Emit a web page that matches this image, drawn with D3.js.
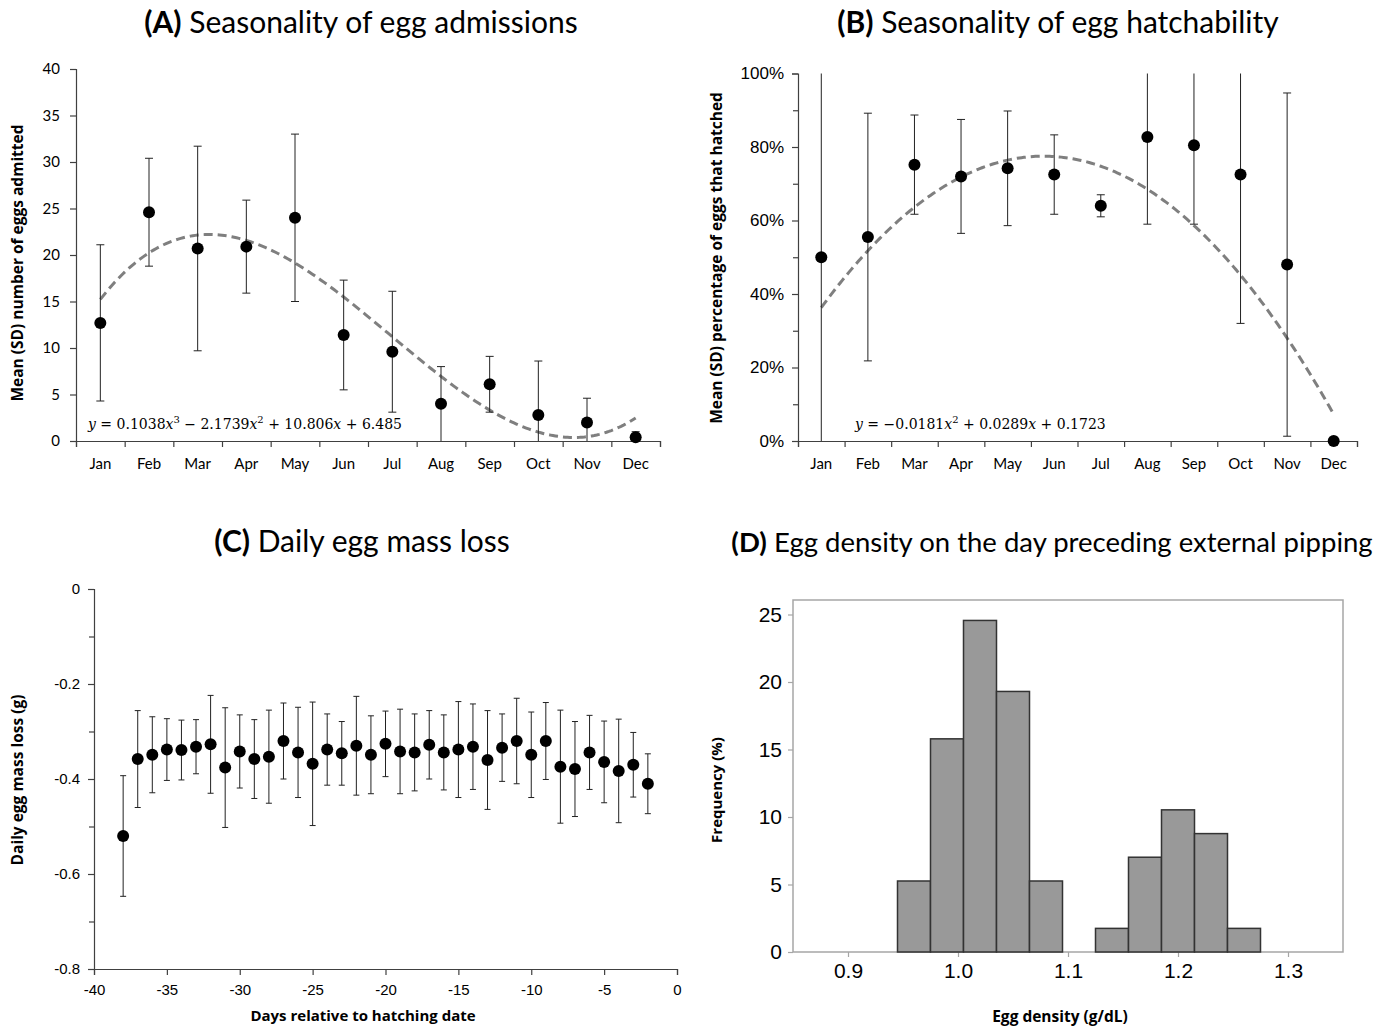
<!DOCTYPE html>
<html>
<head>
<meta charset="utf-8">
<script src="https://cdn.jsdelivr.net/npm/d3@7"></script>
<style>
  body { margin: 0; background: #fff; }
  svg text { fill: #000; }
</style>
</head>
<body>
<svg id="fig" width="1392" height="1027"></svg>
<script>
// ---- data ----
var months = ["Jan", "Feb", "Mar", "Apr", "May", "Jun", "Jul", "Aug", "Sep", "Oct", "Nov", "Dec"];

// (A) eggs admitted per month
var admitMean = [12.7, 24.6, 20.7, 20.9, 24.0, 11.4, 9.6, 4.0, 6.1, 2.8, 2.0, 0.4];
var admitSd = [8.4, 5.8, 11.0, 5.0, 9.0, 5.9, 6.5, 4.0, 3.0, 5.8, 2.6, 0.6];
var admitFit = [0.1038, -2.1739, 10.806, 6.485]; // x^3, x^2, x, 1
var admitTicks = [0, 5, 10, 15, 20, 25, 30, 35, 40];

// (B) hatchability per month
var hatchMean = [0.50, 0.555, 0.752, 0.72, 0.742, 0.725, 0.64, 0.827, 0.805, 0.725, 0.48, 0.0];
var hatchSd = [0.50, 0.337, 0.135, 0.155, 0.156, 0.108, 0.03, 0.237, 0.215, 0.405, 0.467, 0];
var hatchFit = [-0.0181, 0.2089, 0.1723]; // x^2, x, 1 (curve as plotted)
var hatchTicks = [0, 0.2, 0.4, 0.6, 0.8, 1.0];
var hatchMinor = [0.1, 0.3, 0.5, 0.7, 0.9];

// (C) daily egg mass loss
var lossDays = [-38, -37, -36, -35, -34, -33, -32, -31, -30, -29, -28, -27, -26, -25, -24, -23, -22, -21, -20,
  -19, -18, -17, -16, -15, -14, -13, -12, -11, -10, -9, -8, -7, -6, -5, -4, -3, -2];
var lossMean = [-0.520, -0.358, -0.349, -0.338, -0.339, -0.332, -0.327, -0.376, -0.342, -0.358, -0.353, -0.320,
  -0.344, -0.368, -0.338, -0.346, -0.330, -0.349, -0.326, -0.342, -0.344, -0.328, -0.344, -0.338, -0.332,
  -0.360, -0.334, -0.320, -0.349, -0.320, -0.374, -0.379, -0.344, -0.364, -0.383, -0.370, -0.410];
var lossSd = [0.127, 0.102, 0.080, 0.065, 0.063, 0.057, 0.103, 0.126, 0.077, 0.083, 0.098, 0.080, 0.095, 0.130,
  0.075, 0.067, 0.104, 0.082, 0.069, 0.089, 0.081, 0.072, 0.079, 0.101, 0.090, 0.104, 0.071, 0.090, 0.090,
  0.081, 0.119, 0.100, 0.078, 0.086, 0.109, 0.068, 0.063];
var lossXTicks = [-40, -35, -30, -25, -20, -15, -10, -5, 0];
var lossYTicks = [0, -0.2, -0.4, -0.6, -0.8];
var lossYMinor = [-0.1, -0.3, -0.5, -0.7];

// (D) egg density histogram
var binStart = [0.945, 0.975, 1.005, 1.035, 1.065, 1.095, 1.125, 1.155, 1.185, 1.215, 1.245, 1.275];
var binWidth = 0.03;
var binFreq = [5.26, 15.79, 24.56, 19.30, 5.26, 0, 1.75, 7.02, 10.53, 8.77, 1.75, 0];
var densXTicks = [0.9, 1.0, 1.1, 1.2, 1.3];
var densYTicks = [0, 5, 10, 15, 20, 25];

// ---- styles ----
var titleFont = "Lato, 'Open Sans', sans-serif";
var boldFont = "'Open Sans', Lato, sans-serif";
var narrowFont = "'Liberation Sans Narrow', 'Arial Narrow', 'Liberation Sans', sans-serif";
var mathFont = "'DejaVu Serif', 'Liberation Serif', serif";
var axisColor = "#404040";

var svg = d3.select("#fig");

function title(x, y, tag, rest, size) {
  var t = svg.append("text").attr("x", x).attr("y", y)
    .attr("text-anchor", "middle")
    .style("font-family", titleFont).style("font-size", size + "px");
  t.append("tspan").style("font-weight", "bold").text(tag);
  t.append("tspan").text(" " + rest);
}

function yTitle(x, y, txt, size) {
  svg.append("text")
    .attr("transform", "translate(" + x + "," + y + ") rotate(-90)")
    .attr("text-anchor", "middle")
    .style("font-family", boldFont).style("font-weight", "bold").style("font-size", size + "px")
    .text(txt);
}

function xTitle(x, y, txt, size) {
  svg.append("text").attr("x", x).attr("y", y)
    .attr("text-anchor", "middle")
    .style("font-family", boldFont).style("font-weight", "bold").style("font-size", size + "px")
    .text(txt);
}

function styleAxis(g, color, font, size) {
  g.selectAll(".domain").attr("stroke", color).attr("stroke-width", 1.2);
  g.selectAll(".tick line").attr("stroke", color).attr("stroke-width", 1.2);
  g.selectAll(".tick text").style("font-family", font).style("font-size", size).attr("fill", "#000");
}

// equation with italic variables; tokens: [text, kind]
function equation(x, y, tokens) {
  var t = svg.append("text").attr("x", x).attr("y", y)
    .style("font-family", mathFont).style("font-size", "14px");
  tokens.forEach(function (k) {
    var s = t.append("tspan").text(k[0]);
    if (k[1] === "i") s.style("font-style", "italic");
    if (k[1] === "sup") s.attr("dy", -6).style("font-size", "10px");
    if (k[1] === "after") s.attr("dy", 6);
  });
}

function polyVal(coefs, x) {
  return coefs.reduce(function (acc, c) { return acc * x + c; }, 0);
}

// month-panel helper (A and B)
function monthPanel(opt) {
  var x = d3.scaleBand().domain(months).range([opt.left, opt.right]);
  var xEdge = d3.scaleLinear().domain([0, months.length]).range([opt.left, opt.right]);
  var y = d3.scaleLinear().domain(opt.yDomain).range([opt.bottom, opt.top]);

  var gx = svg.append("g").attr("transform", "translate(0," + opt.bottom + ")")
    .call(d3.axisBottom(xEdge).ticks(months.length).tickSize(6).tickFormat(""));
  styleAxis(gx, axisColor, titleFont, "15px");
  var gxl = svg.append("g").attr("transform", "translate(0," + opt.bottom + ")")
    .call(d3.axisBottom(x).tickSize(0).tickPadding(17));
  gxl.select(".domain").remove();
  styleAxis(gxl, axisColor, titleFont, "15px");

  var gy = svg.append("g").attr("transform", "translate(" + opt.left + ",0)")
    .call(d3.axisLeft(y).tickValues(opt.yTicks).tickSize(6).tickPadding(opt.yPad).tickFormat(opt.yFormat));
  styleAxis(gy, axisColor, opt.yFont, opt.yFontSize);
  if (opt.yMinor) {
    var gm = svg.append("g").attr("transform", "translate(" + opt.left + ",0)")
      .call(d3.axisLeft(y).tickValues(opt.yMinor).tickSize(5).tickFormat(""));
    gm.select(".domain").remove();
    styleAxis(gm, axisColor, opt.yFont, opt.yFontSize);
  }

  // fitted trend line (from the displayed polynomial)
  var xs = d3.range(1, 12.001, 0.05);
  var line = d3.line()
    .x(function (v) { return xEdge(v - 0.5); })
    .y(function (v) { return y(polyVal(opt.fit, v)); });
  svg.append("path").datum(xs).attr("d", line)
    .attr("fill", "none").attr("stroke", "#7f7f7f")
    .attr("stroke-width", 3).attr("stroke-dasharray", "9,5");

  // error bars
  var lo = opt.yDomain[0], hi = opt.yDomain[1];
  var bars = svg.append("g");
  months.forEach(function (m, i) {
    var cx = x(m) + x.bandwidth() / 2;
    var a = opt.mean[i] - opt.sd[i], b = opt.mean[i] + opt.sd[i];
    if (opt.sd[i] <= 0) return;
    var a2 = Math.max(a, lo), b2 = Math.min(b, hi);
    bars.append("line").attr("x1", cx).attr("x2", cx).attr("y1", y(a2)).attr("y2", y(b2))
      .attr("stroke", "#222").attr("stroke-width", 1);
    if (a > lo) bars.append("line").attr("x1", cx - 4).attr("x2", cx + 4).attr("y1", y(a)).attr("y2", y(a))
      .attr("stroke", "#222").attr("stroke-width", 1);
    if (b < hi - 1e-9) bars.append("line").attr("x1", cx - 4).attr("x2", cx + 4).attr("y1", y(b)).attr("y2", y(b))
      .attr("stroke", "#222").attr("stroke-width", 1);
  });

  svg.append("g").selectAll("circle").data(opt.mean).enter().append("circle")
    .attr("cx", function (d, i) { return x(months[i]) + x.bandwidth() / 2; })
    .attr("cy", function (d) { return y(d); })
    .attr("r", 6).attr("fill", "#000");
}

// ---- (A) ----
title(361, 33, "(A)", "Seasonality of egg admissions", 30);
monthPanel({
  left: 76, right: 660, top: 69, bottom: 441,
  yDomain: [0, 40], yTicks: admitTicks, yFormat: d3.format("d"),
  yFont: titleFont, yFontSize: "15px", yPad: 10,
  mean: admitMean, sd: admitSd, fit: admitFit
});
yTitle(23, 263, "Mean (SD) number of eggs admitted", 15.5);
equation(88, 429, [["y", "i"], [" = 0.1038"], ["x", "i"], ["3", "sup"], [" − 2.1739", "after"], ["x", "i"], ["2", "sup"],
  [" + 10.806", "after"], ["x", "i"], [" + 6.485"]]);

// ---- (B) ----
title(1058, 33, "(B)", "Seasonality of egg hatchability", 30);
monthPanel({
  left: 798, right: 1357, top: 73.5, bottom: 441,
  yDomain: [0, 1], yTicks: hatchTicks, yMinor: hatchMinor, yFormat: d3.format(".0%"),
  yFont: narrowFont, yFontSize: "17px", yPad: 8,
  mean: hatchMean, sd: hatchSd, fit: hatchFit
});
yTitle(722, 258, "Mean (SD) percentage of eggs that hatched", 15.5);
equation(855, 429, [["y", "i"], [" = −0.0181"], ["x", "i"], ["2", "sup"], [" + 0.0289", "after"], ["x", "i"], [" + 0.1723"]]);

// ---- (C) ----
title(362, 552, "(C)", "Daily egg mass loss", 30);
(function () {
  var x = d3.scaleLinear().domain([-40, 0]).range([94, 677]);
  var y = d3.scaleLinear().domain([-0.8, 0]).range([969, 589]);
  var gx = svg.append("g").attr("transform", "translate(0,969)")
    .call(d3.axisBottom(x).tickValues(lossXTicks).tickSize(6).tickPadding(9)
      .tickFormat(function (d) { return String(d); }));
  styleAxis(gx, axisColor, narrowFont, "15px");
  var gy = svg.append("g").attr("transform", "translate(94,0)")
    .call(d3.axisLeft(y).tickValues(lossYTicks).tickSize(6).tickPadding(8)
      .tickFormat(function (d) { return d === 0 ? "0" : d.toFixed(1); }));
  styleAxis(gy, axisColor, narrowFont, "15px");
  var gm = svg.append("g").attr("transform", "translate(94,0)")
    .call(d3.axisLeft(y).tickValues(lossYMinor).tickSize(5).tickFormat(""));
  gm.select(".domain").remove();
  styleAxis(gm, axisColor, narrowFont, "15px");

  var g = svg.append("g");
  lossDays.forEach(function (d, i) {
    var cx = x(d), a = lossMean[i] - lossSd[i], b = lossMean[i] + lossSd[i];
    g.append("line").attr("x1", cx).attr("x2", cx).attr("y1", y(a)).attr("y2", y(b))
      .attr("stroke", "#222").attr("stroke-width", 1);
    [a, b].forEach(function (v) {
      g.append("line").attr("x1", cx - 3).attr("x2", cx + 3).attr("y1", y(v)).attr("y2", y(v))
        .attr("stroke", "#222").attr("stroke-width", 1);
    });
  });
  svg.append("g").selectAll("circle").data(lossMean).enter().append("circle")
    .attr("cx", function (d, i) { return x(lossDays[i]); })
    .attr("cy", function (d) { return y(d); })
    .attr("r", 6).attr("fill", "#000");

  yTitle(23, 780, "Daily egg mass loss (g)", 15.5);
  xTitle(363, 1021, "Days relative to hatching date", 15);
})();

// ---- (D) ----
title(1052, 552, "(D)", "Egg density on the day preceding external pipping", 27.5);
(function () {
  var x = d3.scaleLinear().domain([0.85, 1.35]).range([793, 1343]);
  var y = d3.scaleLinear().domain([0, 25]).range([952, 614.5]);
  var boxTop = 600;

  svg.append("rect").attr("x", x(0.85)).attr("y", boxTop)
    .attr("width", x(1.35) - x(0.85)).attr("height", y(0) - boxTop)
    .attr("fill", "none").attr("stroke", "#a6a6a6").attr("stroke-width", 1.5);

  var gx = svg.append("g").attr("transform", "translate(0,952)")
    .call(d3.axisBottom(x).tickValues(densXTicks).tickSize(5).tickPadding(6).tickFormat(d3.format(".1f")));
  gx.select(".domain").remove();
  styleAxis(gx, "#a6a6a6", narrowFont, "21px");
  var gy = svg.append("g").attr("transform", "translate(793,0)")
    .call(d3.axisLeft(y).tickValues(densYTicks).tickSize(5).tickPadding(6).tickFormat(d3.format("d")));
  gy.select(".domain").remove();
  styleAxis(gy, "#a6a6a6", narrowFont, "21px");

  svg.append("g").selectAll("rect").data(binFreq).enter().append("rect")
    .attr("x", function (d, i) { return x(binStart[i]); })
    .attr("width", function (d, i) { return x(binStart[i] + binWidth) - x(binStart[i]); })
    .attr("y", function (d) { return y(d); })
    .attr("height", function (d) { return y(0) - y(d); })
    .attr("fill", "#999999").attr("stroke", "#333").attr("stroke-width", 1.5);

  yTitle(722, 790, "Frequency (%)", 15);
  xTitle(1060, 1022, "Egg density (g/dL)", 15.5);
})();
</script>
</body>
</html>
